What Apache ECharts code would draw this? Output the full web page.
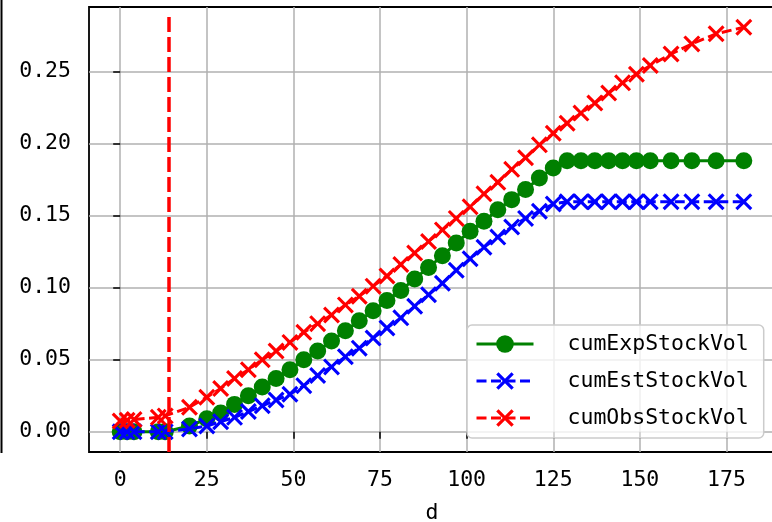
<!DOCTYPE html>
<html><head><meta charset="utf-8">
<script src="https://cdn.jsdelivr.net/npm/echarts@6/dist/echarts.min.js"></script>
<style>html,body{margin:0;padding:0;background:#fff}#c{width:772px;height:522px}</style>
</head><body><div id="c"></div>
<script>
const xDays = [0,2,4,11,13,20,25,29,33,37,41,45,49,53,57,61,65,69,73,77,81,85,89,93,97,101,105,109,113,117,121,125,129,133,137,141,145,149,153,159,165,172,180];
const expVol = [0,0,0,0,0,0.004,0.009,0.013,0.019,0.025,0.031,0.037,0.043,0.050,0.056,0.063,0.070,0.077,0.084,0.091,0.098,0.106,0.114,0.122,0.131,0.139,0.146,0.154,0.161,0.168,0.176,0.183,0.188,0.188,0.188,0.188,0.188,0.188,0.188,0.188,0.188,0.188,0.188];
const estVol = [0,0,0,0,0,0.002,0.004,0.007,0.010,0.014,0.018,0.022,0.026,0.032,0.039,0.045,0.052,0.058,0.065,0.072,0.079,0.087,0.095,0.103,0.112,0.120,0.128,0.135,0.142,0.148,0.153,0.158,0.1595,0.1595,0.1595,0.1595,0.1595,0.1595,0.1595,0.1595,0.1595,0.1595,0.1595];
const obsVol = [0.0075,0.008,0.0085,0.010,0.011,0.017,0.024,0.030,0.037,0.043,0.050,0.056,0.062,0.069,0.075,0.081,0.088,0.094,0.101,0.108,0.116,0.124,0.132,0.140,0.148,0.156,0.165,0.173,0.182,0.190,0.199,0.207,0.214,0.221,0.228,0.235,0.242,0.248,0.254,0.262,0.269,0.276,0.2806];
const xTicks = [0,25,50,75,100,125,150,175];
const yTicks = [0,0.05,0.10,0.15,0.20,0.25];
const vLineDay = 14;
const vLineRange = [-0.01403, 0.29];
const seriesNames = ['cumExpStockVol','cumEstStockVol','cumObsStockVol'];

const pair = arr => xDays.map((d,i)=>[d, arr[i]]);
const X_PATH = 'path://M0,0.13L0.13,0L0.5,0.37L0.87,0L1,0.13L0.63,0.5L1,0.87L0.87,1L0.5,0.63L0.13,1L0,0.87L0.37,0.5Z';
const FONT = 'DejaVu Sans Mono';
const FS = 21.5;

const chart = echarts.init(document.getElementById('c'), null, {renderer:'canvas'});
chart.setOption({
  animation: false,
  backgroundColor: '#fff',
  grid: {left: 89, top: 7, width: 686, height: 445, show: true, borderColor: '#000', borderWidth: 1.8,
         backgroundColor: 'transparent', containLabel: false, outerBoundsMode: 'none'},
  xAxis: {
    type: 'value', min: -9, max: 189,
    name: 'd', nameLocation: 'middle', nameGap: 50,
    nameTextStyle: {fontFamily: FONT, fontSize: FS, color: '#000'},
    axisLine: {show: false},
    axisTick: {show: true, length: 7, customValues: xTicks, lineStyle: {color: '#000', width: 1.5}},
    axisLabel: {customValues: xTicks, fontFamily: FONT, fontSize: FS, color: '#000', margin: 17},
    splitLine: {show: true, lineStyle: {color: '#b0b0b0', width: 1.5}}
  },
  yAxis: {
    type: 'value', min: -0.01403, max: 0.2946,
    axisLine: {show: false},
    axisTick: {show: true, length: 7, customValues: yTicks, lineStyle: {color: '#000', width: 1.5}},
    axisLabel: {customValues: yTicks, fontFamily: FONT, fontSize: FS, color: '#000', margin: 18,
      formatter: v => v.toFixed(2)},
    splitLine: {show: true, lineStyle: {color: '#b0b0b0', width: 1.5}}
  },
  legend: {
    data: seriesNames, orient: 'vertical', left: 467, top: 325,
    itemWidth: 57, itemHeight: 22, itemGap: 15,
    padding: [8, 15, 9, 8],
    backgroundColor: 'rgba(255,255,255,0.8)', borderColor: '#cccccc', borderWidth: 1.5, borderRadius: 5,
    lineStyle: {width: 3},
    textStyle: {fontFamily: FONT, fontSize: FS, color: '#000', padding: [0,0,0,29]}
  },
  graphic: [{type: 'line', shape: {x1: 1.5, y1: 0, x2: 1.5, y2: 453}, style: {stroke: '#000', lineWidth: 2}}],
  series: [
    {name: seriesNames[0], type: 'line', data: pair(expVol), color: '#008000',
     lineStyle: {width: 3, color: '#008000'}, symbol: 'circle', symbolSize: 17,
     itemStyle: {color: '#008000'}, emphasis: {disabled: true}, z: 2},
    {name: seriesNames[1], type: 'line', data: pair(estVol), color: '#0000ff',
     lineStyle: {width: 3, color: '#0000ff', type: [10, 4.5]}, symbol: X_PATH, symbolSize: 17,
     itemStyle: {color: '#0000ff'}, emphasis: {disabled: true}, z: 3},
    {name: seriesNames[2], type: 'line', data: pair(obsVol), color: '#ff0000',
     lineStyle: {width: 3, color: '#ff0000', type: [10, 4.5]}, symbol: X_PATH, symbolSize: 17,
     itemStyle: {color: '#ff0000'}, emphasis: {disabled: true}, z: 4,
     markLine: {silent: true, symbol: ['none','none'], label: {show: false},
       lineStyle: {color: '#ff0000', type: [15, 5], width: 3.5},
       data: [[{coord: [vLineDay, vLineRange[0]]}, {coord: [vLineDay, vLineRange[1]]}]]}}
  ]
});
</script></body></html>
